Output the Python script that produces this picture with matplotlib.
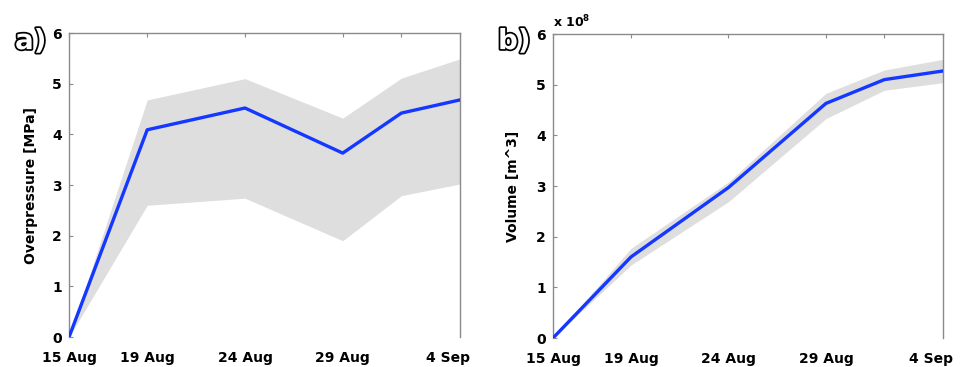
import matplotlib
matplotlib.use("Agg")
import matplotlib.pyplot as plt
import matplotlib.patheffects as pe
from matplotlib.transforms import ScaledTranslation

# days since 15 Aug
days = [0, 4, 9, 14, 17, 20]
tick_days = [0, 4, 9, 14, 17, 20]
tick_labels = ["15 Aug", "19 Aug", "24 Aug", "29 Aug", "", "4 Sep"]

# panel a: overpressure [MPa]
press_mean = [0.0, 4.09, 4.52, 3.63, 4.42, 4.68]
press_upper = [0.0, 4.68, 5.10, 4.32, 5.11, 5.49]
press_lower = [0.0, 2.60, 2.74, 1.90, 2.79, 3.02]

# panel b: volume [x 1e8 m^3]
vol_mean = [0.0, 1.60, 2.97, 4.63, 5.10, 5.27]
vol_upper = [0.0, 1.77, 3.08, 4.83, 5.29, 5.50]
vol_lower = [0.0, 1.44, 2.69, 4.33, 4.89, 5.04]

BLUE = "#1438ff"
BAND = "#dedede"
SPINE = "#8a8a8a"

plt.rcParams["font.family"] = "DejaVu Sans"
plt.rcParams["font.weight"] = "bold"

fig = plt.figure(figsize=(9.67, 3.67), dpi=100)
ax_a = fig.add_axes([0.0714, 0.0817, 0.4043, 0.8283])
ax_b = fig.add_axes([0.5719, 0.0790, 0.4031, 0.8283])


def style(ax, mean, upper, lower, ylabel):
    ax.fill_between(days, lower, upper, color=BAND, lw=0, zorder=1)
    ax.plot(days, mean, color=BLUE, lw=2.4, zorder=3, solid_capstyle="round")
    ax.set_xlim(0, 20)
    ax.set_ylim(0, 6)
    ax.set_xticks(tick_days)
    ax.set_xticklabels(tick_labels)
    ax.set_yticks(range(7))
    ax.spines["bottom"].set_visible(False)
    for s in ("left", "top", "right"):
        ax.spines[s].set_color(SPINE)
        ax.spines[s].set_linewidth(1.0)
    ax.tick_params(axis="x", direction="in", top=True, bottom=False,
                   length=3, color=SPINE, pad=10, labelsize=10)
    ax.tick_params(axis="y", direction="in", left=True, right=False,
                   length=3, color=SPINE, pad=5, labelsize=10)
    for lab in ax.get_xticklabels() + ax.get_yticklabels():
        lab.set_fontweight("bold")
    last = ax.get_xticklabels()[-1]
    last.set_transform(last.get_transform()
                       + ScaledTranslation(-0.12, 0, fig.dpi_scale_trans))
    ax.set_ylabel(ylabel, fontsize=10, fontweight="bold", labelpad=10)


style(ax_a, press_mean, press_upper, press_lower, "Overpressure [MPa]")
style(ax_b, vol_mean, vol_upper, vol_lower, "Volume [m^3]")
ax_b.yaxis.labelpad = 12

ax_b.text(0.0, 1.012, r"x 10$^{\mathregular{8}}$", transform=ax_b.transAxes,
          fontsize=9, fontweight="bold", ha="left", va="bottom")

for x, lab in ((0.0155, "a)"), (0.515, "b)")):
    fig.text(x, 0.888, lab, fontsize=20, fontweight="bold", color="white",
             ha="left", va="center",
             path_effects=[pe.withStroke(linewidth=2.5, foreground="black")])

fig.savefig("out.png", dpi=100)
